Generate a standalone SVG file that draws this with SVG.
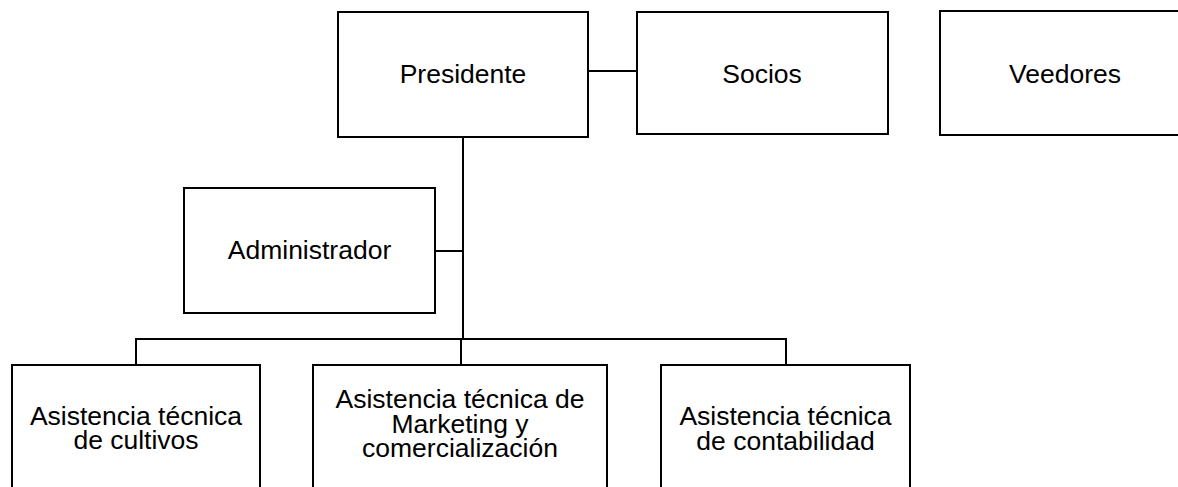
<svg xmlns="http://www.w3.org/2000/svg" width="1178" height="487" viewBox="0 0 1178 487">
<style>
.box{fill:#fff;stroke:#000;stroke-width:2}
.ln{stroke:#000;stroke-width:2;fill:none}
text{font-family:"Liberation Sans",Arial,sans-serif;font-size:26.5px;fill:#000;text-anchor:middle}
</style>
<rect width="1178" height="487" fill="#fff"/>
<g id="connectors">
<line class="ln" x1="588" y1="71" x2="637" y2="71"/>
<line class="ln" x1="463" y1="137" x2="463" y2="339"/>
<line class="ln" x1="435" y1="251" x2="463" y2="251"/>
<polyline class="ln" points="136,365 136,339 786,339 786,365"/>
<line class="ln" x1="461" y1="339" x2="461" y2="365"/>
</g>
<g id="presidente"><rect class="box" x="338" y="12" width="250" height="125"/><text x="463" y="83">Presidente</text></g>
<g id="socios"><rect class="box" x="637" y="12" width="251" height="122"/><text x="762" y="83">Socios</text></g>
<g id="veedores"><rect class="box" x="940" y="11" width="260" height="124"/><text x="1065" y="83">Veedores</text></g>
<g id="administrador"><rect class="box" x="184" y="188" width="251" height="125"/><text x="309.5" y="259">Administrador</text></g>
<g id="cultivos"><rect class="box" x="12" y="365" width="248" height="130"/><text x="136" y="425">Asistencia técnica</text><text x="136" y="449">de cultivos</text></g>
<g id="marketing"><rect class="box" x="313" y="365" width="294" height="130"/><text x="460" y="408">Asistencia técnica de</text><text x="460" y="433">Marketing y</text><text x="460" y="457">comercialización</text></g>
<g id="contabilidad"><rect class="box" x="661" y="365" width="249" height="130"/><text x="785.5" y="425">Asistencia técnica</text><text x="785.5" y="450">de contabilidad</text></g>
</svg>
